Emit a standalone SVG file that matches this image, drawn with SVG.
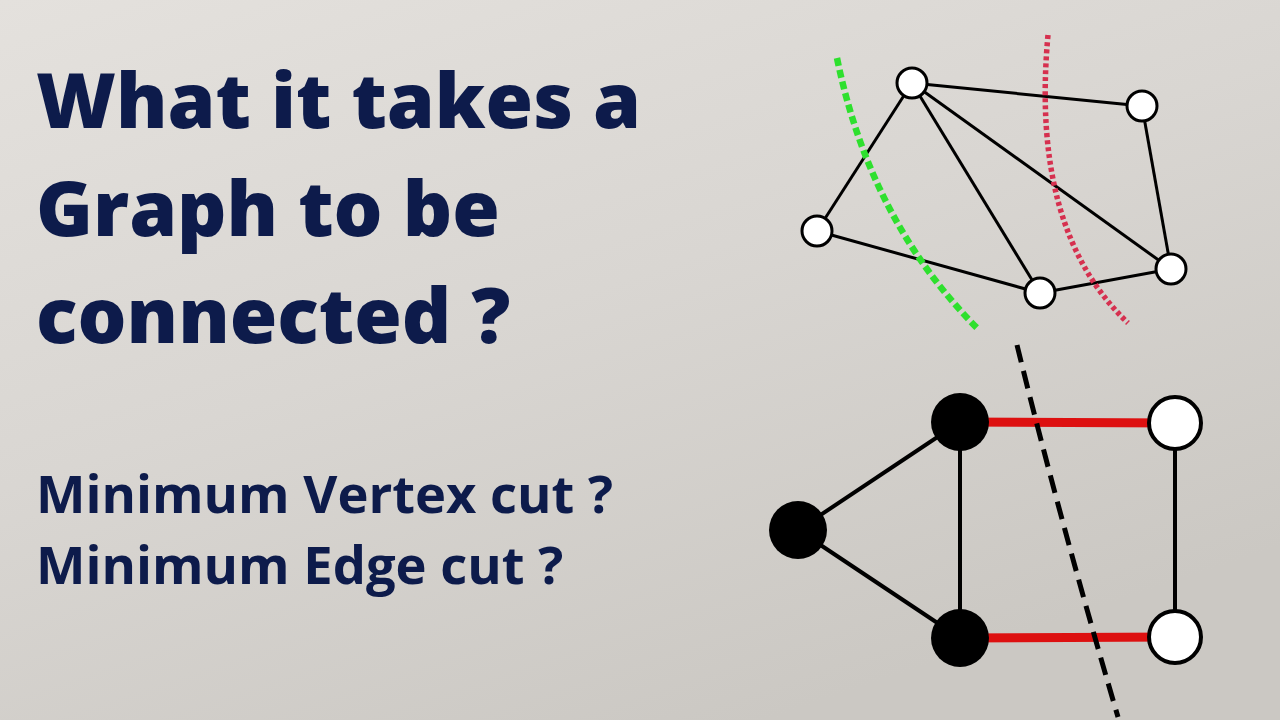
<svg xmlns="http://www.w3.org/2000/svg" width="1280" height="720" viewBox="0 0 1280 720">
<defs>
<linearGradient id="bg" x1="0" y1="0" x2="0.6" y2="1">
<stop offset="0" stop-color="#e4e1dd"/>
<stop offset="0.5" stop-color="#d9d6d2"/>
<stop offset="1" stop-color="#cbc8c3"/>
</linearGradient>
<style>
.t{font-family:"Open Sans","Liberation Sans",sans-serif;fill:#0d1b4b}
.h{font-size:77px;font-weight:800}
.s{font-size:52.5px;font-weight:700}
.e{stroke:#000;stroke-width:3;fill:none}
.eb{stroke:#000;stroke-width:4;fill:none}
.er{stroke:#dd1010;stroke-width:9;fill:none}
.nw{fill:#fff;stroke:#000;stroke-width:3}
.nb{fill:#000}
.nw2{fill:#fff;stroke:#000;stroke-width:4}
</style>
</defs>
<rect width="1280" height="720" fill="url(#bg)"/>
<g id="title">
<text class="t h" x="36" y="128">What it takes a</text>
<text class="t h" x="36" y="236">Graph to be</text>
<text class="t h" x="36" y="343">connected ?</text>
</g>
<g id="subtitles">
<text class="t s" x="36" y="513">Minimum Vertex cut ?</text>
<text class="t s" x="36" y="584">Minimum Edge cut ?</text>
</g>
<g id="connectors">
<line class="e" x1="912" y1="83" x2="1142" y2="106"/>
<line class="e" x1="912" y1="83" x2="817" y2="231"/>
<line class="e" x1="912" y1="83" x2="1040" y2="293"/>
<line class="e" x1="912" y1="83" x2="1171" y2="269"/>
<line class="e" x1="1142" y1="106" x2="1171" y2="269"/>
<line class="e" x1="817" y1="231" x2="1040" y2="293"/>
<line class="e" x1="1040" y1="293" x2="1171" y2="269"/>
<line class="eb" x1="960" y1="422" x2="798" y2="530"/>
<line class="eb" x1="798" y1="530" x2="960" y2="638"/>
<line class="eb" x1="960" y1="422" x2="960" y2="638"/>
<line class="eb" x1="1175" y1="423" x2="1175" y2="637"/>
<line class="er" x1="960" y1="422" x2="1175" y2="423"/>
<line class="er" x1="960" y1="638" x2="1175" y2="637"/>
</g>
<g id="cuts">
<path d="M837,58 Q870,220 977,328" fill="none" stroke="#2ee02e" stroke-width="6.5" stroke-dasharray="8 4"/>
<path d="M1048,35 Q1030,230 1128,323" fill="none" stroke="#d6304f" stroke-width="5.5" stroke-dasharray="4 3"/>
<path d="M1017,345 Q1060,520 1118,717" fill="none" stroke="#000" stroke-width="5" stroke-dasharray="18 9"/>
</g>
<g id="node-a"><circle class="nw" cx="912" cy="83" r="15"/></g>
<g id="node-b"><circle class="nw" cx="1142" cy="106" r="15"/></g>
<g id="node-c"><circle class="nw" cx="817" cy="231" r="15"/></g>
<g id="node-d"><circle class="nw" cx="1040" cy="293" r="15"/></g>
<g id="node-e"><circle class="nw" cx="1171" cy="269" r="15"/></g>
<g id="node-p"><circle class="nb" cx="960" cy="422" r="29"/></g>
<g id="node-q"><circle class="nb" cx="798" cy="530" r="29"/></g>
<g id="node-r"><circle class="nb" cx="960" cy="638" r="29"/></g>
<g id="node-s"><circle class="nw2" cx="1175" cy="423" r="26"/></g>
<g id="node-t"><circle class="nw2" cx="1175" cy="637" r="26"/></g>
</svg>
